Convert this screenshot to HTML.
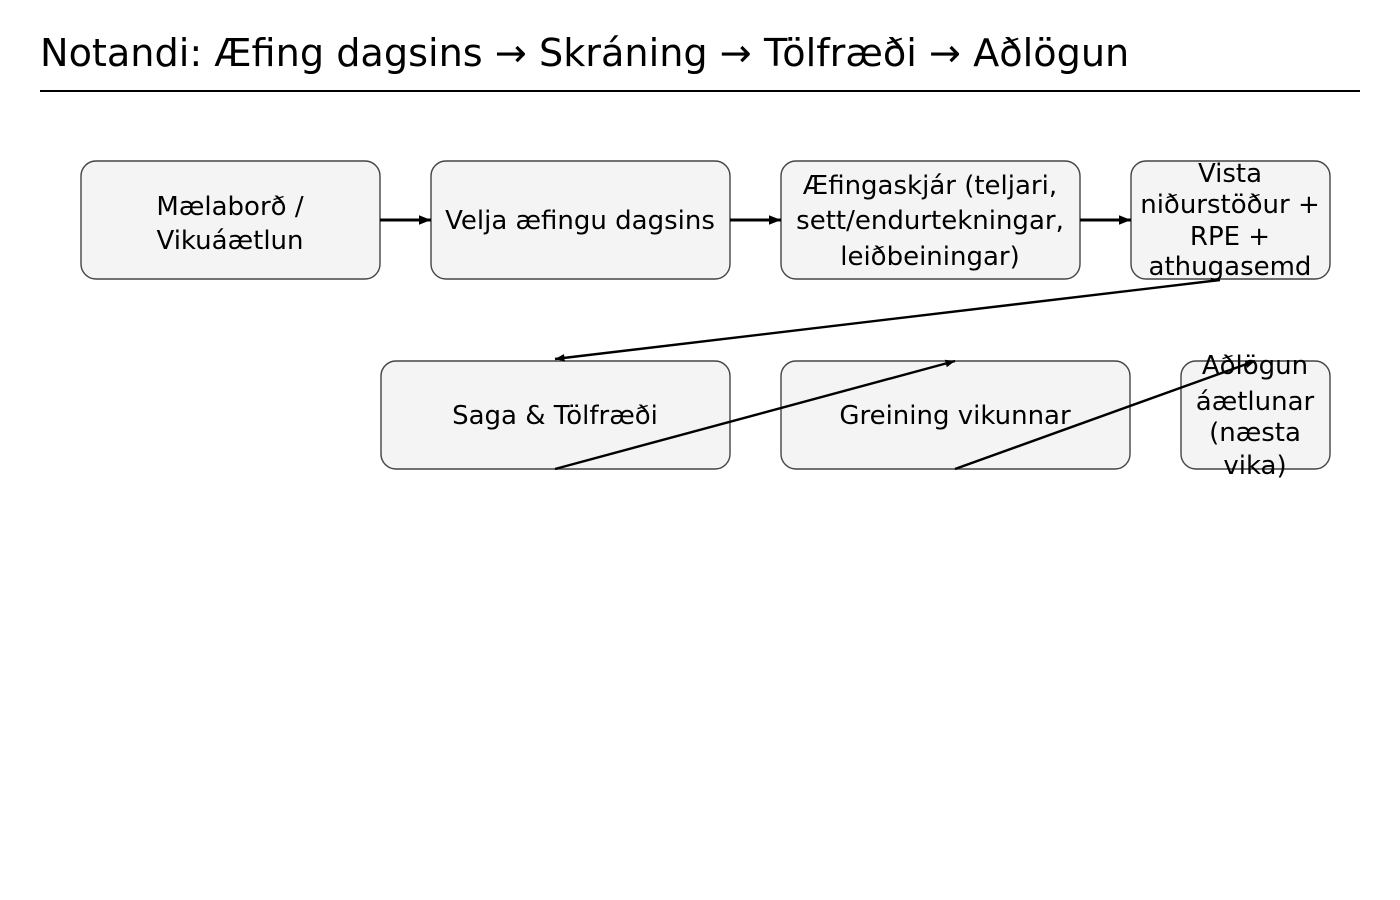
<!DOCTYPE html>
<html><head><meta charset="utf-8"><style>
html,body{margin:0;padding:0;background:#fff;width:1400px;height:900px;overflow:hidden}
svg text{font-family:"DejaVu Sans","Liberation Sans",sans-serif;fill:#000}
</style></head><body>
<svg width="1400" height="900" viewBox="0 0 1400 900" xmlns="http://www.w3.org/2000/svg">
<defs><marker id="a" viewBox="0 0 10 10" refX="10" refY="5" markerWidth="4" markerHeight="4" orient="auto"><path d="M0,1L10,5L0,9z" fill="#000"/></marker></defs>
<text x="40" y="66" font-size="38.2">Notandi: Æfing dagsins → Skráning → Tölfræði → Aðlögun</text>
<line x1="40" y1="91" x2="1360" y2="91" stroke="#000" stroke-width="2"/>
<g fill="#f4f4f4" stroke="#444" stroke-width="1.4">
<rect x="81" y="161" width="299" height="118" rx="15"/>
<rect x="431" y="161" width="299" height="118" rx="15"/>
<rect x="781" y="161" width="299" height="118" rx="15"/>
<rect x="1131" y="161" width="199" height="118" rx="15"/>
<rect x="381" y="361" width="349" height="108" rx="15"/>
<rect x="781" y="361" width="349" height="108" rx="15"/>
<rect x="1181" y="361" width="149" height="108" rx="15"/>
</g>
<g font-size="26" text-anchor="middle">
<text x="230" y="215">Mælaborð /</text><text x="230" y="249">Vikuáætlun</text>
<text x="580" y="229">Velja æfingu dagsins</text>
<text x="930" y="194">Æfingaskjár (teljari,</text><text x="930" y="229">sett/endurtekningar,</text><text x="930" y="265">leiðbeiningar)</text>
<text x="1230" y="182">Vista</text><text x="1230" y="213">niðurstöður +</text><text x="1230" y="245">RPE +</text><text x="1230" y="275">athugasemd</text>
<text x="555" y="424">Saga &amp; Tölfræði</text>
<text x="955" y="424">Greining vikunnar</text>
<text x="1255" y="374">Aðlögun</text><text x="1255" y="410">áætlunar</text><text x="1255" y="441">(næsta</text><text x="1255" y="474">vika)</text>
</g>
<g stroke="#000" stroke-width="3" fill="none" marker-end="url(#a)">
<line x1="380" y1="220" x2="431" y2="220"/>
<line x1="730" y1="220" x2="781" y2="220"/>
<line x1="1080" y1="220" x2="1131" y2="220"/>
</g>
<g stroke="#000" stroke-width="2.4" fill="none" marker-end="url(#a)">
<line x1="1220" y1="280" x2="555" y2="359"/>
<line x1="555" y1="469" x2="955" y2="361"/>
<line x1="955" y1="469" x2="1255" y2="361"/>
</g>
</svg>
</body></html>
